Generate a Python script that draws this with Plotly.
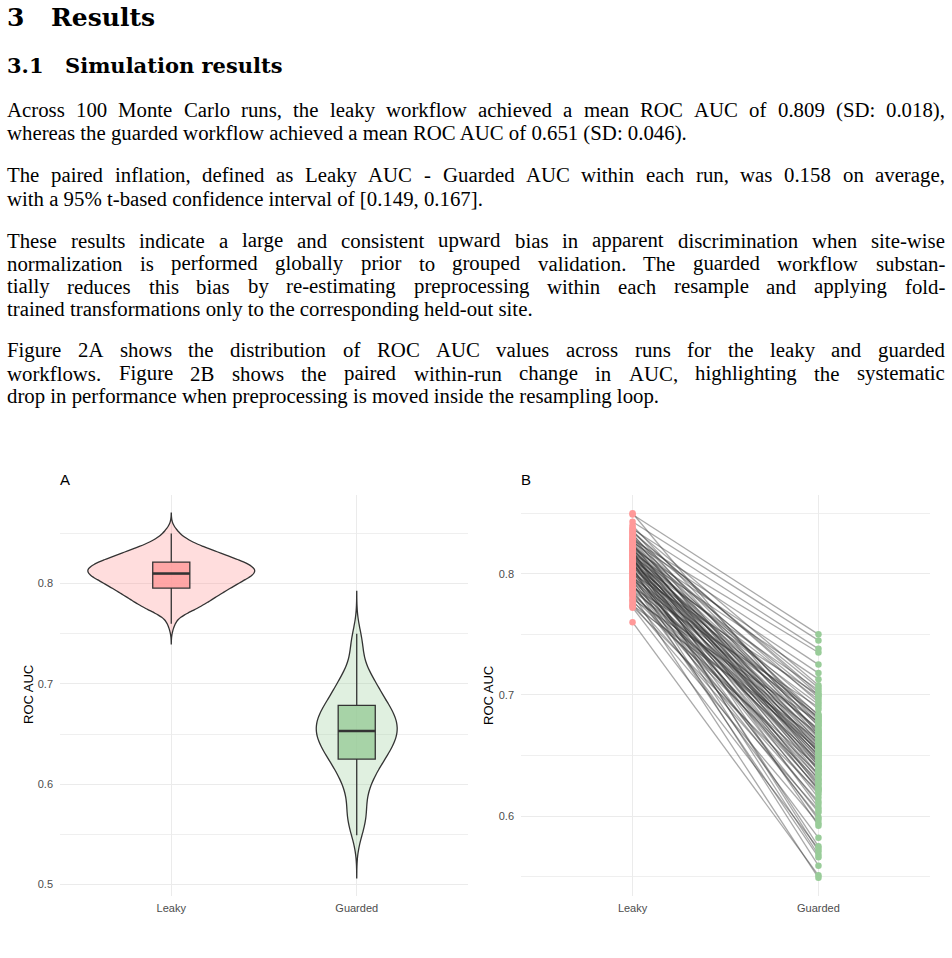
import numpy as np
import plotly.graph_objects as go

W, H = 952, 958

# ---------------- data ----------------
categories = ["Leaky", "Guarded"]

# ROC AUC per Monte Carlo run (paired: same index = same run)
leaky_auc = [
    0.760, 0.772, 0.773, 0.774, 0.775, 0.777, 0.778, 0.779, 0.781, 0.782,
    0.783, 0.784, 0.785, 0.786, 0.787, 0.788, 0.789, 0.790, 0.790, 0.791,
    0.792, 0.793, 0.794, 0.794, 0.795, 0.796, 0.796, 0.797, 0.798, 0.798,
    0.799, 0.800, 0.800, 0.801, 0.802, 0.802, 0.803, 0.803, 0.804, 0.804,
    0.805, 0.806, 0.806, 0.807, 0.807, 0.808, 0.808, 0.809, 0.809, 0.810,
    0.810, 0.811, 0.811, 0.811, 0.812, 0.812, 0.813, 0.813, 0.814, 0.814,
    0.814, 0.815, 0.815, 0.816, 0.816, 0.817, 0.817, 0.818, 0.818, 0.819,
    0.819, 0.820, 0.820, 0.821, 0.821, 0.822, 0.823, 0.823, 0.824, 0.824,
    0.825, 0.826, 0.826, 0.827, 0.828, 0.828, 0.829, 0.830, 0.831, 0.832,
    0.833, 0.834, 0.835, 0.836, 0.837, 0.838, 0.840, 0.843, 0.849, 0.850,
]
guarded_auc = [
    0.551, 0.573, 0.620, 0.663, 0.594, 0.640, 0.605, 0.678, 0.629, 0.655,
    0.549, 0.635, 0.612, 0.668, 0.582, 0.646, 0.690, 0.623, 0.657, 0.599,
    0.566, 0.631, 0.651, 0.603, 0.672, 0.642, 0.618, 0.682, 0.660, 0.626,
    0.559, 0.644, 0.700, 0.622, 0.653, 0.610, 0.666, 0.638, 0.684, 0.597,
    0.568, 0.648, 0.671, 0.627, 0.692, 0.633, 0.658, 0.615, 0.677, 0.650,
    0.575, 0.662, 0.639, 0.704, 0.621, 0.653, 0.681, 0.607, 0.669, 0.645,
    0.571, 0.656, 0.696, 0.630, 0.675, 0.647, 0.713, 0.624, 0.664, 0.688,
    0.592, 0.659, 0.679, 0.634, 0.718, 0.649, 0.670, 0.698, 0.641, 0.683,
    0.637, 0.725, 0.661, 0.694, 0.652, 0.735, 0.674, 0.706, 0.643, 0.680,
    0.654, 0.702, 0.700, 0.665, 0.738, 0.708, 0.676, 0.745, 0.750, 0.667,
]

y_ticks_a = [0.5, 0.6, 0.7, 0.8]
y_ticks_b = [0.6, 0.7, 0.8]
y_minor = [0.55, 0.65, 0.75, 0.85]

heading_num = "3"
heading_text = "Results"
subheading_num = "3.1"
subheading_text = "Simulation results"
body_lines = [
    ("Across 100 Monte Carlo runs, the leaky workflow achieved a mean ROC AUC of 0.809 (SD: 0.018),", True),
    ("whereas the guarded workflow achieved a mean ROC AUC of 0.651 (SD: 0.046).", False),
    ("The paired inflation, defined as Leaky AUC - Guarded AUC within each run, was 0.158 on average,", True),
    ("with a 95% t-based confidence interval of [0.149, 0.167].", False),
    ("These results indicate a large and consistent upward bias in apparent discrimination when site-wise", True),
    ("normalization is performed globally prior to grouped validation. The guarded workflow substan-", True),
    ("tially reduces this bias by re-estimating preprocessing within each resample and applying fold-", True),
    ("trained transformations only to the corresponding held-out site.", False),
    ("Figure 2A shows the distribution of ROC AUC values across runs for the leaky and guarded", True),
    ("workflows. Figure 2B shows the paired within-run change in AUC, highlighting the systematic", True),
    ("drop in performance when preprocessing is moved inside the resampling loop.", False),
]
body_y = [110, 133, 175, 198, 240, 263, 286, 309, 350, 373, 396]

# ---------------- styles ----------------
PINK = "#FF9999"
GREEN = "#99CC99"
OUTLINE = "#333333"
SANS = "Liberation Sans"
SERIF = "Liberation Serif"
HEAD = "DejaVu Serif"
BODY_SIZE = 20.8

leaky = np.array(leaky_auc)
guarded = np.array(guarded_auc)


def nrd0(v):
    sd = np.std(v, ddof=1)
    q1, q3 = np.percentile(v, [25, 75])
    return 0.9 * min(sd, (q3 - q1) / 1.34) * len(v) ** (-0.2)


def kde_peak(v, bw):
    grid = np.linspace(v.min() - 3 * bw, v.max() + 3 * bw, 512)
    d = np.exp(-0.5 * ((grid[:, None] - v[None, :]) / bw) ** 2).sum(1)
    return d.max() / (len(v) * bw * np.sqrt(2 * np.pi))


bw_l, bw_g = nrd0(leaky), nrd0(guarded)
pk_l, pk_g = kde_peak(leaky, bw_l), kde_peak(guarded, bw_g)
pk_max = max(pk_l, pk_g)
vw_l, vw_g = 0.9 * pk_l / pk_max, 0.9 * pk_g / pk_max

lo_a = min(leaky.min() - 3 * bw_l, guarded.min() - 3 * bw_g)
hi_a = max(leaky.max() + 3 * bw_l, guarded.max() + 3 * bw_g)
pad_a = 0.05 * (hi_a - lo_a)
range_a = [lo_a - pad_a, hi_a + pad_a]
lo_b = min(leaky.min(), guarded.min())
hi_b = max(leaky.max(), guarded.max())
pad_b = 0.05 * (hi_b - lo_b)
range_b = [lo_b - pad_b, hi_b + pad_b]

fig = go.Figure()

# ---- Panel A: violins + boxes ----
for vals, cat, col, bw, vw in [
    (leaky, "Leaky", "rgba(255,153,153,0.33)", bw_l, vw_l),
    (guarded, "Guarded", "rgba(153,204,153,0.30)", bw_g, vw_g),
]:
    fig.add_trace(go.Violin(
        x=[cat] * len(vals), y=vals, xaxis="x", yaxis="y",
        fillcolor=col, line=dict(color=OUTLINE, width=1.3),
        points=False, box_visible=False, meanline_visible=False,
        bandwidth=bw, spanmode="manual",
        span=[vals.min() - 3 * bw, vals.max() + 3 * bw],
        width=vw, scalemode="width", scalegroup=cat, name=cat,
        hoverinfo="skip",
    ))
shapes = []
for i, (vals, cat, col) in enumerate([
    (leaky, "Leaky", "rgba(255,153,153,0.8)"),
    (guarded, "Guarded", "rgba(153,204,153,0.8)"),
]):
    fig.add_trace(go.Box(
        x=[cat] * len(vals), y=vals, xaxis="x", yaxis="y",
        fillcolor=col, line=dict(color=OUTLINE, width=1.3),
        boxpoints=False, whiskerwidth=0, width=0.2, name=cat,
        quartilemethod="linear", hoverinfo="skip",
    ))
    med = float(np.percentile(vals, 50))
    shapes.append(dict(type="line", xref="x", yref="y", x0=i - 0.1, x1=i + 0.1,
                       y0=med, y1=med, line=dict(color=OUTLINE, width=2.6)))

# ---- Panel B: paired lines + points ----
for l, g in zip(leaky_auc, guarded_auc):
    fig.add_trace(go.Scatter(
        x=categories, y=[l, g], xaxis="x2", yaxis="y2", mode="lines",
        line=dict(color="rgba(51,51,51,0.42)", width=1.3),
        hoverinfo="skip",
    ))
fig.add_trace(go.Scatter(
    x=["Leaky"] * len(leaky_auc), y=leaky_auc, xaxis="x2", yaxis="y2",
    mode="markers", marker=dict(color=PINK, size=6.5, line=dict(width=0)),
))
fig.add_trace(go.Scatter(
    x=["Guarded"] * len(guarded_auc), y=guarded_auc, xaxis="x2", yaxis="y2",
    mode="markers", marker=dict(color=GREEN, size=6.5, line=dict(width=0)),
))

y_dom = [1 - 896 / H, 1 - 495 / H]
common = dict(showline=False, zeroline=False, ticks="", gridcolor="#EBEBEB",
              gridwidth=1.3, tickfont=dict(family=SANS, size=11, color="#4D4D4D"))
xcommon = dict(type="category", categoryorder="array", categoryarray=categories,
               range=[-0.6, 1.6], ticklabelstandoff=4, **common)
minor = dict(tickvals=y_minor, showgrid=True, gridcolor="#EFEFEF", gridwidth=0.7)

fig.update_layout(
    width=W, height=H, margin=dict(l=0, r=0, t=0, b=0),
    paper_bgcolor="white", plot_bgcolor="white", showlegend=False,
    violinmode="overlay", boxmode="overlay", shapes=shapes,
    xaxis=dict(domain=[60 / W, 468 / W], anchor="y", **xcommon),
    yaxis=dict(domain=y_dom, anchor="x", range=range_a, tickvals=y_ticks_a,
               ticktext=[f"{v:.1f}" for v in y_ticks_a], minor=minor,
               ticklabelstandoff=6, **common),
    xaxis2=dict(domain=[521 / W, 930 / W], anchor="y2", **xcommon),
    yaxis2=dict(domain=y_dom, anchor="x2", range=range_b, tickvals=y_ticks_b,
                ticktext=[f"{v:.1f}" for v in y_ticks_b], minor=minor,
                ticklabelstandoff=6, **common),
)

# ---------------- text ----------------
TIMES = {
    " ": 250, "!": 333, "%": 833, "(": 333, ")": 333, ",": 250, "-": 333, ".": 250,
    ":": 278, "[": 333, "]": 333,
    "A": 722, "B": 667, "C": 667, "D": 722, "E": 611, "F": 556, "G": 722, "H": 722,
    "I": 333, "J": 389, "K": 722, "L": 611, "M": 889, "N": 722, "O": 722, "P": 556,
    "Q": 722, "R": 667, "S": 556, "T": 611, "U": 722, "V": 722, "W": 944, "X": 722,
    "Y": 722, "Z": 611,
    "a": 444, "b": 500, "c": 444, "d": 500, "e": 444, "f": 333, "g": 500, "h": 500,
    "i": 278, "j": 278, "k": 500, "l": 278, "m": 778, "n": 500, "o": 500, "p": 500,
    "q": 500, "r": 333, "s": 389, "t": 278, "u": 500, "v": 500, "w": 722, "x": 500,
    "y": 500, "z": 444,
}


def tw(s):
    return sum(TIMES.get(c, 500) for c in s) / 1000.0


ann = []


def put(text, x, y, size, family, color="black", xanchor="left", angle=0):
    ann.append(dict(text=text, x=x / W, y=1 - y / H, xref="paper", yref="paper",
                    xanchor=xanchor, yanchor="middle", showarrow=False,
                    textangle=angle, borderpad=0, borderwidth=0,
                    font=dict(size=size, family=family, color=color)))


XL, XR = 7, 945
put(f"<b>{heading_num}</b>", XL, 18, 25, HEAD)
put(f"<b>{heading_text}</b>", 51, 18, 25, HEAD)
put(f"<b>{subheading_num}</b>", XL, 65, 21, HEAD)
put(f"<b>{subheading_text}</b>", 65, 65, 21, HEAD)

for (line, just), y in zip(body_lines, body_y):
    if not just:
        put(line, XL, y, BODY_SIZE, SERIF)
        continue
    words = line.split(" ")
    total = sum(tw(w) for w in words) * BODY_SIZE
    gap = (XR - XL - total) / (len(words) - 1)
    x = XL
    for w in words:
        put(w, x, y, BODY_SIZE, SERIF)
        x += tw(w) * BODY_SIZE + gap

# panel labels and axis titles
put("A", 60, 479, 15, SANS)
put("B", 521, 479, 15, SANS)
put("ROC AUC", 28, 695, 13, SANS, xanchor="center", angle=-90)
put("ROC AUC", 488, 695, 13, SANS, xanchor="center", angle=-90)

fig.update_layout(annotations=ann)
fig.write_html("out.html")
